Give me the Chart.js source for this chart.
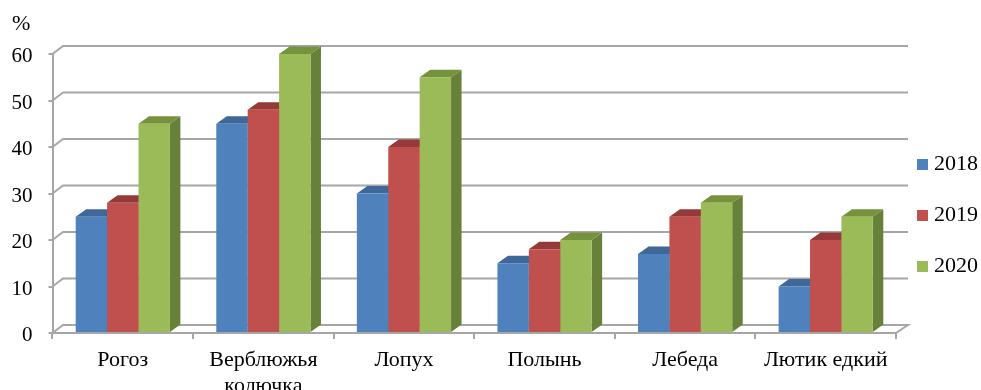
<!DOCTYPE html>
<html>
<head>
<meta charset="utf-8">
<style>html,body{margin:0;padding:0;background:#fff}canvas{display:block}</style>
<script src="https://cdn.jsdelivr.net/npm/chart.js@4"></script>
</head>
<body>
<canvas id="c" width="981" height="390"></canvas>
<script>
const categories = ["Рогоз", ["Верблюжья", "колючка"], "Лопух", "Полынь", "Лебеда", "Лютик едкий"];
const values2018 = [25, 45, 30, 15, 17, 10];
const values2019 = [28, 48, 40, 18, 25, 20];
const values2020 = [45, 60, 55, 20, 28, 25];
const frontColors = ["#4f81bd", "#c0504d", "#9bbb59"];
const topColors = ["#3f6797", "#953a38", "#76923c"];
const sideColors = ["#38608f", "#8c3836", "#67803a"];
const gridColor = "#a6a6a6";
const fontFamily = "'Liberation Serif', serif";
const depthX = 10.5, depthY = 7.5;

function swatch(color) {
  const s = document.createElement("canvas");
  s.width = 11; s.height = 11;
  const g = s.getContext("2d");
  g.fillStyle = color; g.fillRect(0, 0, 11, 11);
  return s;
}

const threeD = {
  id: "threeD",
  afterLayout(chart) {
    const l = chart.legend;
    l.left = 893; l.top = 124; l.bottom = l.top + l.height;
  },
  beforeDatasetsDraw(chart) {
    const ctx = chart.ctx, a = chart.chartArea, ys = chart.scales.y;
    ctx.save();
    ctx.strokeStyle = gridColor; ctx.lineWidth = 2;
    ys.ticks.forEach(t => {
      const y = ys.getPixelForValue(t.value);
      ctx.beginPath();
      ctx.moveTo(a.left, y);
      ctx.lineTo(a.left + depthX, y - 8);
      ctx.lineTo(a.right + 12, y - 8);
      if (t.value === 0) ctx.lineTo(a.right, y);
      ctx.stroke();
    });
    [0, 1, 2].forEach(i => {
      chart.getDatasetMeta(i).data.forEach(b => {
        const p = b.getProps(["x", "y", "base", "width"], true);
        const l = p.x - p.width / 2, r = p.x + p.width / 2;
        ctx.fillStyle = sideColors[i];
        ctx.beginPath();
        ctx.moveTo(r, p.y); ctx.lineTo(r + depthX, p.y - depthY);
        ctx.lineTo(r + depthX, p.base - depthY); ctx.lineTo(r, p.base);
        ctx.closePath(); ctx.fill();
        ctx.fillStyle = topColors[i];
        ctx.beginPath();
        ctx.moveTo(l, p.y); ctx.lineTo(l + depthX, p.y - depthY);
        ctx.lineTo(r + depthX, p.y - depthY); ctx.lineTo(r, p.y);
        ctx.closePath(); ctx.fill();
      });
    });
    ctx.restore();
  }
};

const seriesOpts = { barPercentage: 1, categoryPercentage: 0.67, borderWidth: 0 };
new Chart(document.getElementById("c"), {
  type: "bar",
  data: {
    labels: categories,
    datasets: [
      { label: "2018", data: values2018, backgroundColor: frontColors[0], ...seriesOpts },
      { label: "2019", data: values2019, backgroundColor: frontColors[1], ...seriesOpts },
      { label: "2020", data: values2020, backgroundColor: frontColors[2], ...seriesOpts }
    ]
  },
  options: {
    responsive: false,
    animation: false,
    layout: { padding: { left: 12, top: 11, right: 0, bottom: 0 } },
    plugins: {
      tooltip: { enabled: false },
      title: {
        display: true, text: "%", align: "start", color: "#000",
        font: { family: fontFamily, size: 22, weight: "normal" },
        padding: { top: 0, bottom: 16.6 }
      },
      legend: {
        position: "right", align: "start", maxWidth: 85,
        labels: {
          color: "#000",
          font: { family: fontFamily, size: 22 },
          usePointStyle: true, pointStyleWidth: 1, boxHeight: 11, padding: 29,
          generateLabels(chart) {
            return Chart.defaults.plugins.legend.labels.generateLabels(chart)
              .map(l => ({ ...l, pointStyle: swatch(l.fillStyle), strokeStyle: "transparent", lineWidth: 0 }));
          }
        }
      }
    },
    scales: {
      x: {
        afterFit(s) { s.height = 57; },
        border: { color: gridColor, width: 2 },
        grid: { drawOnChartArea: false, drawTicks: true, tickLength: 6, color: gridColor, lineWidth: 2 },
        ticks: { color: "#000", padding: 8, autoSkip: false, maxRotation: 0, font: { family: fontFamily, size: 22 } }
      },
      y: {
        min: 0, max: 60,
        afterFit(s) { s.width = 40.5; },
        border: { color: gridColor, width: 2 },
        grid: { drawOnChartArea: false, drawTicks: true, tickLength: 4, color: gridColor, lineWidth: 2 },
        ticks: {
          color: "#000", stepSize: 10, padding: 16,
          font: { family: fontFamily, size: 21, lineHeight: 0.28 },
          callback: v => ["", String(v)]
        }
      }
    }
  },
  plugins: [threeD]
});
</script>
</body>
</html>
